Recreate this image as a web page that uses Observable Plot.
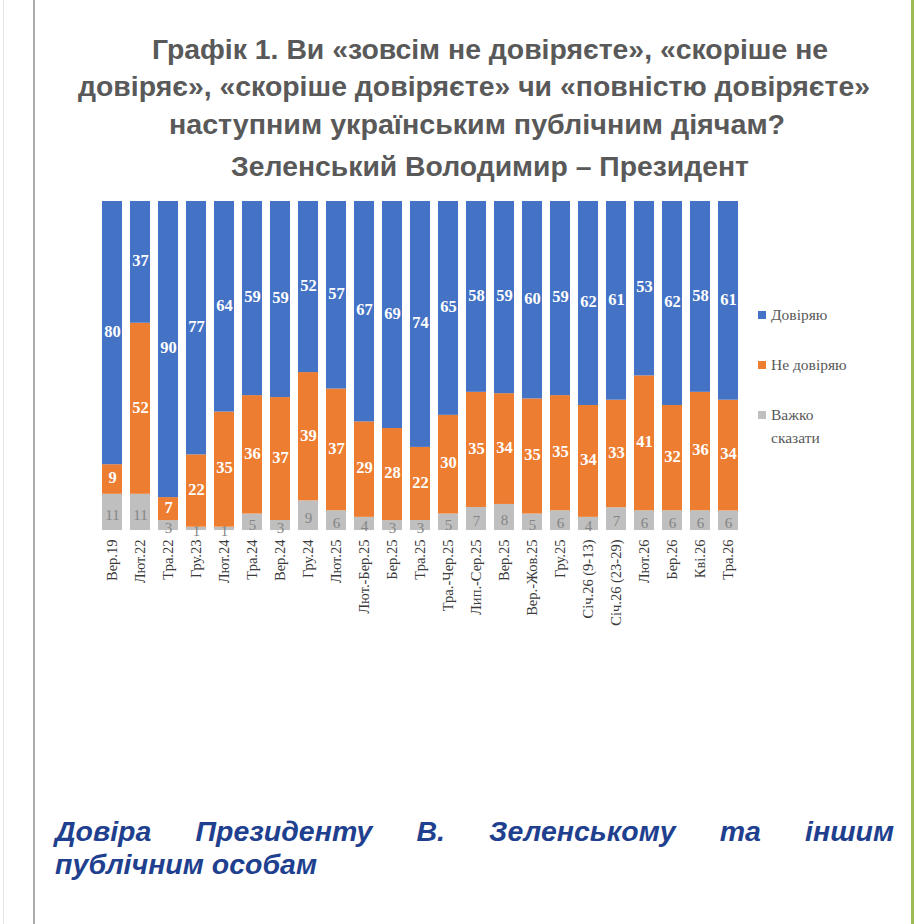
<!DOCTYPE html>
<html>
<head>
<meta charset="utf-8">
<script src="https://cdn.jsdelivr.net/npm/d3@7"></script>
<script src="https://cdn.jsdelivr.net/npm/@observablehq/plot@0.6"></script>
<style>
  html, body { margin: 0; padding: 0; background: #fff; }
  #page { position: relative; width: 916px; height: 924px; overflow: hidden; background: #fff; }
  .edge { position: absolute; top: 0; height: 924px; }
  .tline { position: absolute; white-space: nowrap; font-family: "Liberation Sans", Arial, sans-serif;
           font-weight: bold; font-size: 28px; line-height: 28px; color: #595959; }
  #chart { position: absolute; left: 0; top: 190px; }
  .leg { position: absolute; font-family: "Liberation Serif", "Times New Roman", serif; font-size: 15.5px;
         color: #595959; line-height: 23px; }
  .leg i { position: absolute; left: -13px; top: 8px; width: 8px; height: 8px; }
  .cap { position: absolute; left: 55px; width: 839px; font-family: "Liberation Sans", Arial, sans-serif;
         font-weight: bold; font-style: italic; font-size: 28.5px; line-height: 32px; color: #1f3f8f; white-space: nowrap; }
  .cap.just { display: flex; justify-content: space-between; }
</style>
</head>
<body>
<div id="page">
  <div class="edge" style="left:3px;width:1px;background:#e4e4e4"></div>
  <div class="edge" style="left:33px;width:2px;background:#ababab"></div>
  <div class="edge" style="left:911px;width:3px;background:#9bbb59"></div>

  <div class="tline" data-cx="490" data-cy="50" data-w="676">Графік 1. Ви «зовсім не довіряєте», «скоріше не</div>
  <div class="tline" data-cx="474" data-cy="87" data-w="792">довіряє», «скоріше довіряєте» чи «повністю довіряєте»</div>
  <div class="tline" data-cx="477" data-cy="125" data-w="616">наступним українським публічним діячам?</div>
  <div class="tline" data-cx="490" data-cy="167" data-w="518">Зеленський Володимир – Президент</div>

  <div id="chart"></div>

  <div class="leg" style="left:771px;top:303px"><i style="background:#4472c4"></i>Довіряю</div>
  <div class="leg" style="left:771px;top:353px"><i style="background:#ed7d31"></i>Не довіряю</div>
  <div class="leg" style="left:771px;top:403px"><i style="background:#bfbfbf"></i>Важко<br>сказати</div>

  <div class="cap just" style="top:815px"><span>Довіра</span><span>Президенту</span><span>В.</span><span>Зеленському</span><span>та</span><span>іншим</span></div>
  <div class="cap" style="top:848px">публічним особам</div>
</div>
<script>
const categories = ["Вер.19","Лют.22","Тра.22","Гру.23","Лют.24","Тра.24","Вер.24","Гру.24","Лют.25","Лют.-Бер.25","Бер.25","Тра.25","Тра.-Чер.25","Лип.-Сер.25","Вер.25","Вер.-Жов.25","Гру.25","Січ.26 (9-13)","Січ.26 (23-29)","Лют.26","Бер.26","Кві.26","Тра.26"];
const trust    = [80,37,90,77,64,59,59,52,57,67,69,74,65,58,59,60,59,62,61,53,62,58,61];
const distrust = [ 9,52, 7,22,35,36,37,39,37,29,28,22,30,35,34,35,35,34,33,41,32,36,34];
const hard     = [11,11, 3, 1, 1, 5, 3, 9, 6, 4, 3, 3, 5, 7, 8, 5, 6, 4, 7, 6, 6, 6, 6];
const seriesKeys   = ["hard","distrust","trust"];
const seriesNames  = ["Важко сказати","Не довіряю","Довіряю"];
const seriesColors = ["#bfbfbf","#ed7d31","#4472c4"];

const seriesValues = {hard, distrust, trust};
const rows = [];
categories.forEach((c, i) => {
  seriesKeys.forEach(k => rows.push({cat: c, series: k, value: seriesValues[k][i]}));
});

const serif = '"Liberation Serif", "Times New Roman", serif';
const stackOpts = {x: "cat", y: "value", z: "series", offset: "normalize", order: null};

const chart = Plot.plot({
  width: 916,
  height: 460,
  marginLeft: 94,
  marginRight: 169,
  marginTop: 11,
  marginBottom: 120,
  style: {background: "transparent", overflow: "visible"},
  x: {domain: categories, paddingInner: 0.28, paddingOuter: 0.14, label: null},
  y: {domain: [0, 1], axis: null},
  color: {domain: seriesKeys, range: seriesColors},
  marks: [
    Plot.barY(rows, Plot.stackY({...stackOpts, fill: "series"})),
    Plot.text(rows, Plot.stackY({...stackOpts,
      text: d => d.series === "hard" ? "" : String(d.value),
      fill: "white", fontWeight: "bold", fontSize: 16.5, dy: -1.5, fontFamily: serif})),
    Plot.text(rows, Plot.stackY({...stackOpts,
      text: d => d.series === "hard" ? String(d.value) : "",
      fill: "#858585", fontSize: 15, dy: 2.5, fontFamily: serif})),
    Plot.axisX({tickRotate: -90, tickSize: 0, tickPadding: 9, fontSize: 14.5, label: null,
      fill: "#3a3a3a", fontFamily: serif})
  ]
});
document.getElementById("chart").appendChild(chart);

document.querySelectorAll(".tline").forEach(el => {
  const w = el.offsetWidth;
  const s = +el.dataset.w / w;
  el.style.left = el.dataset.cx + "px";
  el.style.top = el.dataset.cy + "px";
  el.style.transform = `translate(-50%, -50%) scaleX(${s})`;
});
</script>
</body>
</html>
